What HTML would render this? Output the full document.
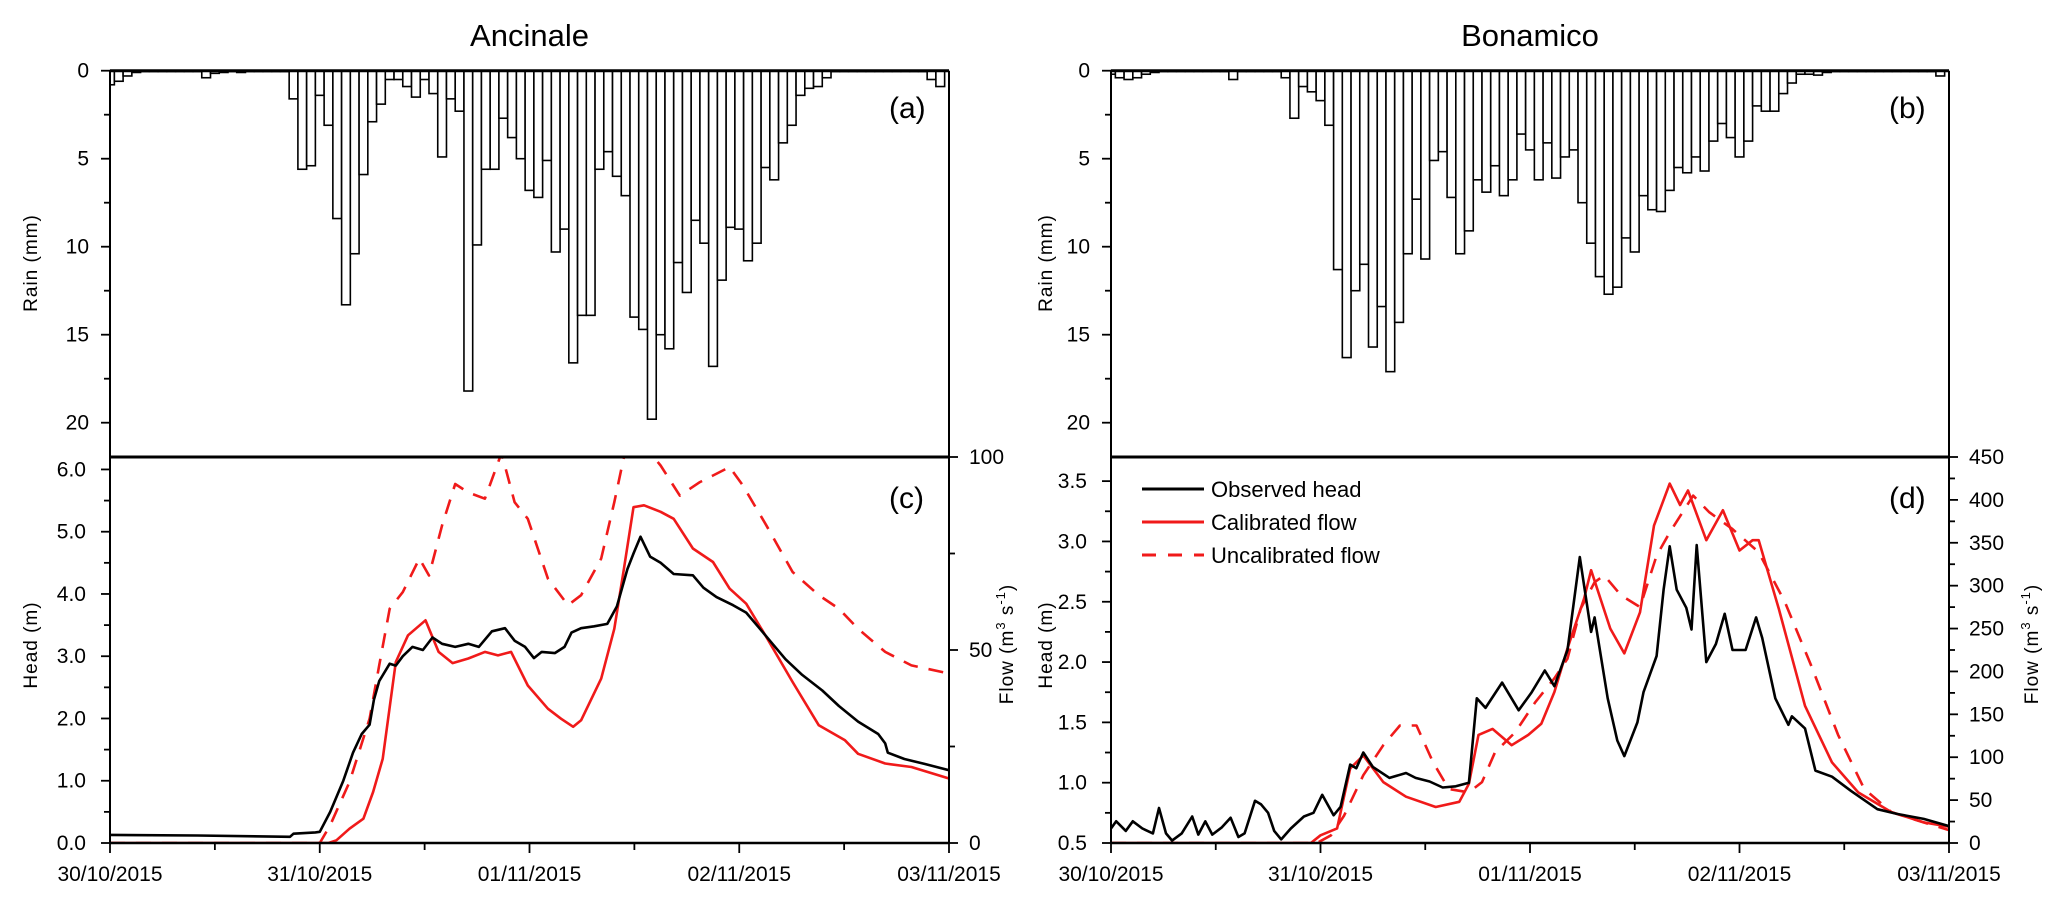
<!DOCTYPE html>
<html><head><meta charset="utf-8"><style>
html,body{margin:0;padding:0;background:#fff;}
svg{display:block;font-family:"Liberation Sans",Arial,sans-serif;}
</style></head><body>
<svg id="fig" width="2068" height="904" viewBox="0 0 2068 904" xmlns="http://www.w3.org/2000/svg"></svg>
<script>
// ---- data ----
const dateLabels = ["30/10/2015","31/10/2015","01/11/2015","02/11/2015","03/11/2015"];
const rainTicks = [0,5,10,15,20];
const headTicksA = ["0.0","1.0","2.0","3.0","4.0","5.0","6.0"];
const flowTicksA = [0,50,100];
const headTicksB = ["0.5","1.0","1.5","2.0","2.5","3.0","3.5"];
const flowTicksB = [0,50,100,150,200,250,300,350,400,450];

const rainA = [0.8,0.6,0.3,0.1,0.05,0.05,0.05,0.05,0.05,0.05,0.05,0.4,0.15,0.1,0.05,0.1,0.05,0.05,0.05,0.05,0.05,
1.6,5.6,5.4,1.4,3.1,8.4,13.3,10.4,5.9,2.9,1.9,0.5,0.5,0.9,1.5,0.5,1.3,4.9,1.6,2.3,18.2,9.9,5.6,5.6,2.7,3.8,5.0,6.8,7.2,5.1,
10.3,9.0,16.6,13.9,13.9,5.6,4.6,6.0,7.1,14.0,14.7,19.8,15.0,15.8,10.9,12.6,8.5,9.8,16.8,11.9,8.9,9.0,10.8,9.8,5.5,6.2,4.1,3.1,
1.4,1.0,0.9,0.4,0.05,0.05,0.05,0.05,0.05,0.05,0.05,0.05,0.05,0.05,0.05,0.5,0.9];
const rainB = [0.2,0.4,0.5,0.4,0.2,0.1,0.05,0.05,0.05,0.05,0.05,0.05,0.05,0.05,0.5,0.05,0.05,0.05,0.05,0.05,
0.4,2.7,0.9,1.2,1.7,3.1,11.3,16.3,12.5,11.0,15.7,13.4,17.1,14.3,10.4,7.3,10.7,5.1,4.6,7.2,10.4,9.1,6.2,6.9,5.4,7.1,6.2,3.6,4.5,6.2,
4.1,6.1,4.9,4.5,7.5,9.8,11.7,12.7,12.3,9.5,10.3,7.1,7.9,8.0,6.8,5.5,5.8,4.9,5.7,4.0,3.0,3.8,4.9,4.0,2.0,2.3,2.3,1.3,0.7,0.2,
0.2,0.25,0.1,0.05,0.05,0.05,0.05,0.05,0.05,0.05,0.05,0.05,0.05,0.05,0.05,0.3];

const obsA_t = [0,10,20.6,21,23.5,24,25.2,26.7,27.8,28.8,29.7,30.2,30.8,32,32.7,33.5,34.6,35.8,36.9,38,39.5,41,42.2,43.7,45.2,46.3,47.5,48.5,49.4,50.9,52,52.8,53.9,55.4,56.9,58,59.2,59.9,60.7,61.8,63,64.5,66.7,67.9,69.4,71.3,72.8,74.3,75.8,77.3,79.2,81.5,83.4,85.6,87.9,88.7,89,90.9,93.2,96];
const obsA_v = [0.13,0.12,0.10,0.15,0.17,0.18,0.5,1.0,1.45,1.75,1.9,2.3,2.6,2.88,2.85,3.0,3.15,3.1,3.3,3.2,3.15,3.2,3.15,3.4,3.45,3.25,3.15,2.97,3.07,3.05,3.15,3.38,3.45,3.48,3.52,3.8,4.4,4.65,4.92,4.6,4.5,4.32,4.3,4.1,3.95,3.82,3.7,3.45,3.2,2.95,2.7,2.45,2.2,1.95,1.75,1.6,1.45,1.35,1.27,1.17];
const calA_t = [0,25,25.9,27.4,29,30.1,31.2,32.7,34.1,36.1,37.6,39.2,41,42.9,44.4,45.9,47.8,50.1,51.6,53,53.9,56.2,57.7,58.8,59.9,61.1,63,64.5,66.7,69,70.9,72.8,75.1,78.1,81.1,84.1,85.6,88.7,91.7,96];
const calA_v = [0,0,0.7,3.7,6.3,13.2,21.8,46.9,53.8,57.7,49.5,46.6,47.8,49.5,48.6,49.5,40.8,34.8,32.2,30.1,31.8,42.6,55.5,71,87,87.5,85.8,84,76.3,72.8,65.9,62,53.4,41.7,30.5,26.6,23.1,20.6,19.7,16.7];
const uncA_t = [0,24,25.2,27.4,29.7,30.8,32,33.5,35.4,36.5,38,39.5,41,42.9,44.8,46.3,47.8,50.1,52.4,53.9,56.2,57.7,58.8,60,61.5,63,65.2,67.5,69,70.9,72.4,75.1,78.1,81.1,83.4,85.6,88.7,91.7,96];
const uncA_v = [0,0,4.6,15.8,32.2,46,60.7,65,73.7,69.3,82.3,93,90.8,89.2,101,88.3,84,68.5,61.6,64.2,73.7,88.3,100,104,102,97.8,90,93.5,95.2,97.4,92.7,82.3,70.2,64.2,60.7,55.5,49.5,46,43.9];

const obsB_t = [0,0.6,1.7,2.5,3.6,4.8,5.5,6.3,7,8.1,9.3,10,10.8,11.6,12.7,13.7,14.6,15.3,16.5,17.2,18,18.7,19.5,20.6,22.1,23.2,24.2,25.5,26.3,27.4,28.1,28.9,30,31.9,33.8,34.9,36.5,38,39.5,41,41.9,42.9,44.8,46.7,48.2,49.7,50.8,52.3,53.7,55,55.4,56.9,58,58.8,60.3,61,62.5,63.3,64,64.8,65.9,66.5,67.1,68.2,69.3,70.3,71.2,72.7,73.9,74.6,76.1,77.6,78,79.5,80.7,82.6,84.8,87.8,90.1,93.1,96];
const obsB_v = [0.62,0.68,0.6,0.68,0.62,0.58,0.79,0.58,0.52,0.58,0.72,0.57,0.68,0.57,0.63,0.71,0.55,0.58,0.85,0.82,0.75,0.6,0.53,0.62,0.72,0.75,0.9,0.73,0.8,1.15,1.12,1.25,1.13,1.04,1.08,1.04,1.01,0.96,0.97,1.0,1.7,1.62,1.83,1.6,1.75,1.93,1.8,2.1,2.87,2.25,2.37,1.7,1.35,1.22,1.5,1.75,2.05,2.6,2.96,2.6,2.45,2.27,2.97,2.0,2.15,2.4,2.1,2.1,2.37,2.2,1.7,1.48,1.55,1.45,1.1,1.05,0.93,0.78,0.74,0.7,0.64];
const calB_t = [0,22.9,24,25.9,27.4,28.9,31.2,33.8,37.2,39.9,41,42.1,43.7,45.9,47.8,49.3,50.8,52.3,54.2,55,57.2,58.8,60.6,62.2,64,65.2,66.1,68.2,70.1,72,73.5,74.2,76.5,79.5,82.6,85.6,89.4,93.1,96];
const calB_v = [0,0,9,17,87,102,71,54,42,48,69,126,133,114,126,139,176,227,285,318,250,221,269,370,419,394,411,353,388,341,353,353,273,160,94,59,36,24,19];
const uncB_t = [0,23.6,25.2,26.7,28.9,31.2,33.1,35,36.9,38.7,41,42.5,44,46.3,48.6,50.8,52.3,53.8,55.4,56.5,58.4,60.6,62.5,64,66.7,68.5,71.2,74.2,77.2,80.2,83.3,86.3,89.4,93.1,96];
const uncB_v = [0,0,9,32,79,114,137,137,94,63,59,71,106,129,164,192,215,273,304,312,289,275,335,362,405,386,366,339,281,207,126,63,36,24,15];

// ---- drawing ----
const NS = "http://www.w3.org/2000/svg";
const svg = document.getElementById("fig");
function mk(tag, attrs, parent){ const e=document.createElementNS(NS,tag); for(const k in attrs) e.setAttribute(k,attrs[k]); (parent||svg).appendChild(e); return e; }
const RED="#f01a1a", TOP=70.7, MID=457, BOT=843, FS=21;

function panel(p){
  const x0=p.x0, x1=p.x1;
  const xs = h => x0 + (x1-x0)*h/96;
  const ry = v => TOP + v*17.6;
  const hy = v => BOT - (v-p.hmin)/(p.hmax-p.hmin)*(BOT-MID);
  const fy = v => BOT - v/p.fmax*(BOT-MID);
  const g = mk("g",{});
  
  
  const t = mk("text",{x:(x0+x1)/2,y:46,"font-size":31,"text-anchor":"middle"},g);
  t.textContent=p.title;
  
  
  const cid="clip"+p.id;
  const cp=mk("clipPath",{id:cid},g); mk("rect",{x:x0,y:MID,width:x1-x0,height:BOT-MID},cp);
  const rg=mk("g",{},g);
  
  
  p.rain.forEach((v,i)=>{
    const a=Math.max(x0,xs(i-0.5)), b=Math.min(x1,xs(i+0.5));
    const r=mk("rect",{x:a,y:TOP,width:Math.max(0.5,b-a),height:Math.max(0.6,ry(v)-TOP),fill:"#fff",stroke:"#000","stroke-width":1.6},rg);
    
    
  });
  function line(ts,vs,yf,color,dash,name){
    const d=ts.map((t,i)=>(i?"L":"M")+xs(t).toFixed(1)+","+yf(vs[i]).toFixed(1)).join("");
    const e=mk("path",{d:d,fill:"none",stroke:color,"stroke-width":2.6,"stroke-linejoin":"round","clip-path":"url(#"+cid+")"},g);
    if(dash) e.setAttribute("stroke-dasharray",dash);
    
    
  }
  line(p.uncT,p.uncV,fy,RED,"15,11",p.id+'-uncalibrated-flow-line');
  line(p.calT,p.calV,fy,RED,null,p.id+'-calibrated-flow-line');
  line(p.obsT,p.obsV,hy,"#000",null,p.id+'-observed-head-line');
  mk("line",{x1:x0,y1:TOP,x2:x1,y2:TOP,stroke:"#000","stroke-width":3},g);
  mk("line",{x1:x0,y1:MID,x2:x1,y2:MID,stroke:"#000","stroke-width":3},g);
  mk("line",{x1:x0,y1:BOT,x2:x1,y2:BOT,stroke:"#000","stroke-width":2.5},g);
  mk("line",{x1:x0,y1:TOP,x2:x0,y2:BOT,stroke:"#000","stroke-width":2},g);
  mk("line",{x1:x1,y1:TOP,x2:x1,y2:BOT,stroke:"#000","stroke-width":2},g);
  for(let v=0; v<=22; v+=2.5){ const y=ry(v); const maj=v%5===0; mk("line",{x1:x0-(maj?9:6),y1:y,x2:x0,y2:y,stroke:"#000","stroke-width":1.8},g); }
  rainTicks.forEach(v=>{ const e=mk("text",{x:x0-21,y:ry(v)+7,"font-size":FS,"text-anchor":"end"},g); e.textContent=v;
      });
  const hstep=(p.hmax-p.hmin)>5?0.5:0.25;
  for(let v=p.hmin; v<=p.hmax+1e-6; v+=hstep){ const y=hy(v); const maj=Math.abs((v-p.hmin)/(hstep*2)-Math.round((v-p.hmin)/(hstep*2)))<1e-6; mk("line",{x1:x0-(maj?9:6),y1:y,x2:x0,y2:y,stroke:"#000","stroke-width":1.8},g); }
  p.hTicks.forEach(s=>{ const e=mk("text",{x:x0-24,y:hy(parseFloat(s))+7,"font-size":FS,"text-anchor":"end"},g); e.textContent=s;
      });
  const fs=p.fTicks[1]/2;
  for(let v=0; v<=p.fmax+1e-6; v+=fs){ const y=fy(v); const maj=Math.round(v/fs)%2===0; mk("line",{x1:x1,y1:y,x2:x1+(maj?9:6),y2:y,stroke:"#000","stroke-width":1.8},g); }
  p.fTicks.forEach(v=>{ const e=mk("text",{x:x1+20,y:fy(v)+7,"font-size":FS},g); e.textContent=v;
      });
  for(let h=0; h<=96; h+=12){ mk("line",{x1:xs(h),y1:BOT,x2:xs(h),y2:BOT+(h%24===0?10:7),stroke:"#000","stroke-width":1.8},g); }
  dateLabels.forEach((s,i)=>{ const e=mk("text",{x:xs(i*24),y:881,"font-size":FS,"text-anchor":"middle"},g); e.textContent=s;
      });
  const at=(txt,x,y,name)=>{ const e=mk("text",{x:0,y:0,"font-size":19,"text-anchor":"middle","letter-spacing":"1",transform:`translate(${x},${y}) rotate(-90)`},g); e.innerHTML=txt;
      };
  at("Rain (mm)",p.rainTX,263,p.id+'-rain-axis-title');
  at("Head (m)",p.headTX,645,p.id+'-head-axis-title');
  at('Flow (m<tspan dy="-8" font-size="13">3</tspan><tspan dy="8"> s</tspan><tspan dy="-8" font-size="13">-1</tspan><tspan dy="8">)</tspan>',p.flowTX,644,p.id+'-flow-axis-title');
  const l1=mk("text",{x:x1-60,y:118,"font-size":30},g); l1.textContent=p.l1;
   
  const l2=mk("text",{x:x1-60,y:508,"font-size":30},g); l2.textContent=p.l2;
   
}

panel({id:"ancinale",title:"Ancinale",x0:110,x1:949,rain:rainA,hmin:0,hmax:6.2,fmax:100,hTicks:headTicksA,fTicks:flowTicksA,
  obsT:obsA_t,obsV:obsA_v,calT:calA_t,calV:calA_v,uncT:uncA_t,uncV:uncA_v,l1:"(a)",l2:"(c)",rainTX:37,headTX:37,flowTX:1013});
panel({id:"bonamico",title:"Bonamico",x0:1111,x1:1949,rain:rainB,hmin:0.5,hmax:3.7,fmax:450,hTicks:headTicksB,fTicks:flowTicksB,
  obsT:obsB_t,obsV:obsB_v,calT:calB_t,calV:calB_v,uncT:uncB_t,uncV:uncB_v,l1:"(b)",l2:"(d)",rainTX:1052,headTX:1052,flowTX:2038});

const lg=mk("g",{});


[["Observed head","#000",null,489],["Calibrated  flow",RED,null,522],["Uncalibrated  flow",RED,"14,12",555]].forEach(e=>{
  const l=mk("line",{x1:1142,y1:e[3],x2:1204,y2:e[3],stroke:e[1],"stroke-width":3},lg);
  if(e[2]) l.setAttribute("stroke-dasharray",e[2]);
  const t=mk("text",{x:1211,y:e[3]+8,"font-size":22},lg); t.textContent=e[0];
  
  
});
</script>
</body></html>
